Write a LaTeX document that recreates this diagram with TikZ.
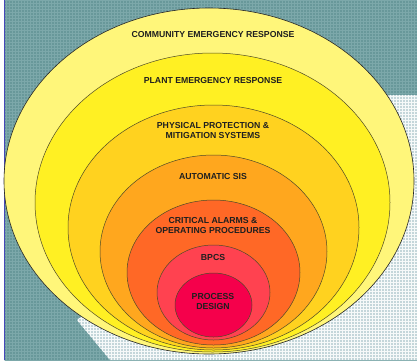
\documentclass[tikz,border=0pt]{standalone}
\usepackage{fontspec}
\setmainfont{Liberation Sans}
\definecolor{bgteal}{RGB}{104, 152, 154}
\definecolor{bgtealline}{RGB}{124, 168, 170}
\definecolor{bglight}{RGB}{196, 214, 218}
\definecolor{ringedge}{RGB}{78, 74, 40}
\definecolor{ringA}{RGB}{255, 246, 122}
\definecolor{ringB}{RGB}{255, 240, 35}
\definecolor{ringC}{RGB}{255, 210, 31}
\definecolor{ringD}{RGB}{255, 167, 30}
\definecolor{ringE}{RGB}{255, 104, 38}
\definecolor{ringF}{RGB}{255, 66, 80}
\definecolor{ringG}{RGB}{245, 0, 75}
\usetikzlibrary{positioning}
\tikzset{
  ring/.style={draw=ringedge, line width=0.5pt},
  layerlabel/.style={font=\fontsize{8.7}{10.8}\selectfont\bfseries, text=black!88, align=center, inner sep=0pt}
}

\begin{document}
\begin{tikzpicture}[x=1pt, y=-1pt]
  \useasboundingbox (0,0) rectangle (417,360);

  % Background: teal panel with fine grid
  \fill[white] (0,0) rectangle (417,360);
  \begin{scope}
    \clip (4.5,0) rectangle (417,360);
    \fill[bgteal] (0,0) rectangle (417,360);
    \draw[bgtealline, line width=0.5pt, step=3pt] (0,0) grid (417,360);
  \end{scope}

  % Light panel, lower right
  \begin{scope}
    \clip (77,320) -- (363,95) -- (417,95) -- (417,360) -- (110,360) -- cycle;
    \fill[bglight] (0,0) rectangle (417,360);
    \draw[white!85!bglight, line width=0.5pt, step=3pt] (0,0) grid (417,360);
  \end{scope}

  % Left border line
  \draw[blue!45!gray, line width=0.8pt] (4.5,0) -- (4.5,360);

  % Nested layers, outside in
  \draw[draw=black!85, line width=0.6pt, fill=ringA] (209,181) ellipse [x radius=205pt, y radius=173pt];
  \draw[ring, fill=ringB] (212.5,202.5) ellipse [x radius=177.5pt, y radius=149.5pt];
  \draw[ring, fill=ringC] (213.5,227.5) ellipse [x radius=145.5pt, y radius=122.5pt];
  \draw[ring, fill=ringD] (213.5,251.5) ellipse [x radius=113.5pt, y radius=96.5pt];
  \draw[ring, fill=ringE] (213.5,272.5) ellipse [x radius=86.5pt, y radius=72.5pt];
  \draw[ring, fill=ringF] (213.5,292.5) ellipse [x radius=56.5pt, y radius=47.5pt];
  \draw[ring, fill=ringG] (213.5,305) ellipse [x radius=38.5pt, y radius=32pt];

  % Layer labels
  \node[layerlabel] (community) at (213,34) {COMMUNITY EMERGENCY RESPONSE};
  \node[layerlabel] (plant) at (213,80) {PLANT EMERGENCY RESPONSE};
  \node[layerlabel] (physical) at (213,130.5) {PHYSICAL PROTECTION \&\\MITIGATION SYSTEMS};
  \node[layerlabel] (sis) at (213,176) {AUTOMATIC SIS};
  \node[layerlabel] (alarms) at (213,225.5) {CRITICAL ALARMS \&\\OPERATING PROCEDURES};
  \node[layerlabel] (bpcs) at (213,257) {BPCS};
  \node[layerlabel] (design) at (213,301.5) {PROCESS\\DESIGN};
\end{tikzpicture}
\end{document}
